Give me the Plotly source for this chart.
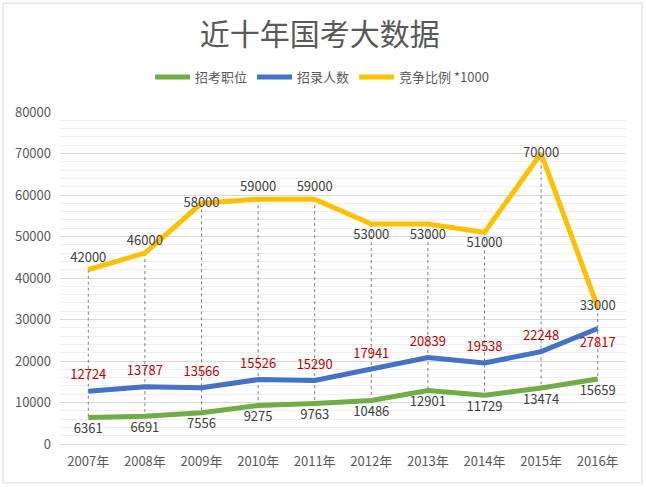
import plotly.graph_objects as go

years = ["2007年", "2008年", "2009年", "2010年", "2011年", "2012年", "2013年", "2014年", "2015年", "2016年"]
positions = [6361, 6691, 7556, 9275, 9763, 10486, 12901, 11729, 13474, 15659]
hires = [12724, 13787, 13566, 15526, 15290, 17941, 20839, 19538, 22248, 27817]
ratio_x1000 = [42000, 46000, 58000, 59000, 59000, 53000, 53000, 51000, 70000, 33000]

yellow_pos = ["top center", "top center", "middle center", "top center", "top center",
              "bottom center", "bottom center", "bottom center", "middle center", "middle center"]
blue_pos = ["top center"] * 9 + ["bottom center"]
green_pos = ["bottom center"] * 10

FONT = "Noto Sans CJK SC, Noto Sans, sans-serif"

fig = go.Figure()

# drop lines from the top series to the bottom series
dx, dy = [], []
for c, hi, lo in zip(years, ratio_x1000, positions):
    dx += [c, c, None]
    dy += [hi, lo, None]
fig.add_trace(go.Scatter(x=dx, y=dy, mode="lines", showlegend=False, hoverinfo="skip",
                         line=dict(color="#7F7F7F", width=1, dash="3px,3px")))

series = [
    ("招考职位", positions, "#70AD47", "#404040", green_pos, 8),
    ("招录人数", hires, "#4472C4", "#C00000", blue_pos, 12),
    ("竞争比例 *1000", ratio_x1000, "#FFC000", "#404040", yellow_pos, 6),
]
for name, vals, lc, tc, tpos, msize in series:
    fig.add_trace(go.Scatter(x=years, y=vals, name=name, mode="lines",
                             line=dict(color=lc, width=5)))
for name, vals, lc, tc, tpos, msize in series:
    fig.add_trace(go.Scatter(x=years, y=vals, mode="markers+text", showlegend=False,
                             hoverinfo="skip", text=[str(v) for v in vals], textposition=tpos,
                             marker=dict(size=msize, opacity=0),
                             textfont=dict(color=tc, size=13, family=FONT)))

fig.update_layout(
    width=646, height=487,
    margin=dict(l=60, r=20, t=112, b=43),
    paper_bgcolor="white", plot_bgcolor="white",
    font=dict(family=FONT, color="#595959", size=13),
    title=dict(text="近十年国考大数据", x=0.495, xref="container", y=0.93, yanchor="middle",
               font=dict(size=30, color="#595959", family=FONT)),
    legend=dict(orientation="h", x=0.463, xanchor="center", y=1.105, yanchor="middle",
                font=dict(size=13, color="#595959"), itemwidth=35, tracegroupgap=0,
                bgcolor="rgba(0,0,0,0)"),
    showlegend=True,
)
fig.update_xaxes(type="category", range=[-0.5, len(years) - 0.5], showgrid=False,
                 showline=False, ticks="", ticklabelstandoff=8,
                 tickfont=dict(size=13, color="#595959"))
fig.update_yaxes(range=[0, 80000], dtick=10000, tickformat="d", showgrid=True, gridcolor="#D9D9D9",
                 zeroline=True, zerolinecolor="#D9D9D9", zerolinewidth=1,
                 minor=dict(dtick=2000, showgrid=True, gridcolor="#EFEFEF"),
                 tickfont=dict(size=13, color="#595959"), ticks="", ticklabelstandoff=8)

# outer chart frame
fig.add_shape(type="rect", xref="paper", yref="paper",
              x0=-0.1007, x1=1.0283, y0=-0.1175, y1=1.328,
              line=dict(color="#D9D9D9", width=1), layer="below")

fig.write_html("out.html", config={"displayModeBar": False},
               post_script="document.body.style.margin='0';")
